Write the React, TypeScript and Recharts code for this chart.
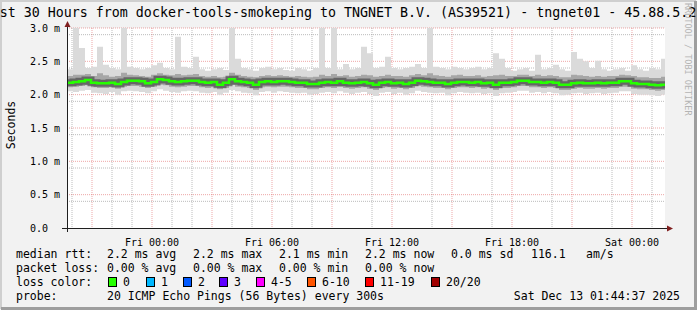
import { ComposedChart, Area, Line, XAxis, YAxis, CartesianGrid } from "recharts";

// 100 samples, 18 min apart, starting Thu 19:45 (hours relative to Fri 00:00)
const startHour = -4.25;
const stepHours = 0.3;
const endHour = 25.65;

const median = [
  2.18, 2.19, 2.2, 2.22, 2.18, 2.17, 2.17, 2.18, 2.16, 2.19,
  2.21, 2.21, 2.2, 2.17, 2.19, 2.23, 2.22, 2.2, 2.19, 2.2,
  2.21, 2.21, 2.19, 2.18, 2.19, 2.15, 2.18, 2.23, 2.2, 2.19,
  2.18, 2.15, 2.19, 2.2, 2.19, 2.2, 2.2, 2.19, 2.18, 2.18,
  2.16, 2.16, 2.18, 2.19, 2.18, 2.2, 2.18, 2.17, 2.18, 2.19,
  2.17, 2.15, 2.18, 2.19, 2.17, 2.18, 2.16, 2.18, 2.21, 2.2,
  2.19, 2.18, 2.18, 2.16, 2.18, 2.19, 2.19, 2.18, 2.19, 2.17,
  2.18, 2.15, 2.18, 2.18, 2.19, 2.21, 2.21, 2.19, 2.19, 2.18,
  2.19, 2.18, 2.15, 2.15, 2.17, 2.18, 2.17, 2.17, 2.18, 2.17,
  2.18, 2.18, 2.2, 2.2, 2.17, 2.16, 2.16, 2.15, 2.14, 2.15,
];

const maxPing = [
  2.38, 3.0, 2.7, 2.4, 2.42, 2.72, 2.45, 2.4, 2.38, 3.0,
  2.42, 2.4, 2.38, 2.4, 2.44, 2.48, 2.4, 2.38, 2.87, 2.42,
  2.4, 2.57, 2.38, 2.36, 2.38, 2.4, 2.37, 3.0, 2.54, 2.4,
  2.38, 2.36, 2.4, 2.42, 2.38, 2.4, 2.37, 2.36, 2.4, 2.38,
  2.36, 2.4, 3.0, 2.4, 3.0, 2.38, 2.46, 2.38, 2.4, 2.72,
  2.62, 2.4, 2.42, 2.57, 2.4, 2.38, 2.4, 2.42, 2.46, 2.4,
  3.0, 2.42, 2.4, 2.38, 2.42, 2.4, 2.38, 2.4, 2.42, 2.38,
  2.4, 2.62, 2.54, 2.4, 2.36, 2.38, 2.4, 2.36, 2.6, 2.38,
  2.4, 2.45, 2.38, 2.36, 2.64, 2.54, 2.5, 2.4, 2.51, 2.38,
  2.36, 2.38, 2.4, 2.36, 2.44, 2.38, 2.36, 2.4, 2.38, 2.54,
];

const highQ = [
  2.28, 2.3, 2.3, 2.31, 2.28, 2.32, 2.29, 2.27, 2.28, 2.33,
  2.3, 2.29, 2.28, 2.27, 2.3, 2.32, 2.3, 2.29, 2.31, 2.29,
  2.3, 2.31, 2.28, 2.27, 2.28, 2.26, 2.27, 2.33, 2.3, 2.28,
  2.27, 2.26, 2.28, 2.29, 2.28, 2.29, 2.28, 2.27, 2.28, 2.27,
  2.26, 2.27, 2.3, 2.28, 2.31, 2.28, 2.29, 2.27, 2.28, 2.3,
  2.29, 2.27, 2.28, 2.3, 2.28, 2.28, 2.27, 2.29, 2.31, 2.29,
  2.32, 2.29, 2.28, 2.27, 2.29, 2.3, 2.28, 2.28, 2.29, 2.27,
  2.28, 2.29, 2.3, 2.28, 2.28, 2.3, 2.3, 2.28, 2.3, 2.28,
  2.29, 2.28, 2.26, 2.26, 2.3, 2.29, 2.28, 2.27, 2.28, 2.27,
  2.28, 2.28, 2.3, 2.29, 2.28, 2.26, 2.26, 2.25, 2.25, 2.27,
];

const lowQ = [
  2.11, 2.12, 2.13, 2.14, 2.11, 2.1, 2.1, 2.11, 2.09, 2.12,
  2.13, 2.13, 2.12, 2.1, 2.12, 2.15, 2.14, 2.12, 2.11, 2.12,
  2.13, 2.13, 2.11, 2.1, 2.11, 2.08, 2.1, 2.15, 2.12, 2.11,
  2.1, 2.07, 2.11, 2.12, 2.11, 2.12, 2.12, 2.11, 2.1, 2.1,
  2.08, 2.08, 2.1, 2.11, 2.1, 2.12, 2.1, 2.09, 2.1, 2.11,
  2.09, 2.07, 2.1, 2.11, 2.09, 2.1, 2.08, 2.1, 2.13, 2.12,
  2.11, 2.1, 2.1, 2.08, 2.1, 2.11, 2.11, 2.1, 2.11, 2.09,
  2.1, 2.07, 2.1, 2.1, 2.11, 2.13, 2.13, 2.11, 2.11, 2.1,
  2.11, 2.1, 2.07, 2.07, 2.09, 2.1, 2.09, 2.09, 2.1, 2.09,
  2.1, 2.1, 2.12, 2.12, 2.09, 2.08, 2.08, 2.07, 2.06, 2.07,
];

const minPing = [
  2.05, 2.04, 2.06, 2.07, 2.03, 2.02, 2.01, 2.04, 2.0, 2.05,
  2.06, 2.05, 2.04, 2.02, 2.05, 2.08, 2.06, 2.04, 2.03, 2.05,
  2.06, 2.05, 2.03, 2.02, 2.04, 2.0, 2.03, 2.07, 2.05, 2.03,
  2.02, 1.99, 2.04, 2.05, 2.03, 2.05, 2.04, 2.03, 2.02, 2.03,
  2.0, 2.01, 2.03, 2.04, 2.02, 2.05, 2.03, 2.01, 2.03, 2.04,
  2.01, 1.98, 2.03, 2.04, 2.01, 2.03, 2.0, 2.02, 2.06, 2.04,
  2.03, 2.02, 2.03, 1.99, 2.02, 2.04, 2.03, 2.02, 2.03, 2.01,
  2.02, 1.98, 2.02, 2.03, 2.04, 2.06, 2.06, 2.03, 2.04, 2.02,
  2.04, 2.02, 1.99, 2.0, 2.02, 2.03, 2.01, 2.02, 2.03, 2.01,
  2.02, 2.03, 2.05, 2.05, 2.01, 2.0, 2.0, 1.99, 1.98, 2.0,
];

const xTicks = [0, 6, 12, 18, 24];
const xTickLabels = ["Fri 00:00", "Fri 06:00", "Fri 12:00", "Fri 18:00", "Sat 00:00"];
const yTicks = [0, 0.5, 1, 1.5, 2, 2.5, 3];
const yTickLabels = ["0.0", "0.5 m", "1.0 m", "1.5 m", "2.0 m", "2.5 m", "3.0 m"];

const lossColors = ["#26ff00", "#00b8ff", "#0059ff", "#5e00ff", "#ff00ff", "#ff5500", "#ff0000", "#a10000"];
const lossLabels = ["0", "1", "2", "3", "4-5", "6-10", "11-19", "20/20"];

const rows = median.map((m, i) => ({
  t: startHour + stepHours * i,
  median: m,
  min: minPing[i],
  lowQ: lowQ[i],
  highQ: highQ[i],
  max: maxPing[i],
}));
rows.push({ ...rows[rows.length - 1], t: endHour });

// grid positions
const minorH: number[] = [];
const majorH: number[] = [];
for (let k = 1; k <= 30; k++) (k % 5 === 0 ? majorH : minorH).push(k / 10);
const minorV: number[] = [];
const majorV: number[] = [];
for (let h = -4; h <= 25; h++) (h % 3 === 0 ? majorV : minorV).push(h);

const mono = "'DejaVu Sans Mono', monospace";

const YTick = (props: any) => {
  const { y, payload } = props;
  const idx = yTicks.indexOf(payload.value);
  return (
    <text x={30} y={y + 3.5} fontSize={10} fontFamily={mono} fill="#000">
      {yTickLabels[idx]}
    </text>
  );
};

const XTick = (props: any) => {
  const { x, y, payload } = props;
  const idx = xTicks.indexOf(payload.value);
  return (
    <text x={x} y={y + 10} fontSize={10} fontFamily={mono} fill="#000" textAnchor="middle">
      {xTickLabels[idx]}
    </text>
  );
};

const legendX = [107, 193, 279, 365, 451];
const rttItems = ["2.2 ms avg", "2.2 ms max", "2.1 ms min", "2.2 ms now", "0.0 ms sd"];
const lossItems = ["0.00 % avg", "0.00 % max", "0.00 % min", "0.00 % now"];
const boxX = [108, 146, 183, 219, 256, 307, 365, 431];

export default function App() {
  const t = { fontSize: 11.5, fontFamily: mono, fill: "#000" };
  return (
    <div style={{ position: "relative", width: 697, height: 310, background: "#f2f2f2", overflow: "hidden" }}>
      <style>{`body{margin:0}`}</style>
      <ComposedChart
        width={697}
        height={310}
        data={rows}
        margin={{ top: 28, right: 32, bottom: 62, left: 7 }}
      >
        <CartesianGrid
          fill="#ffffff"
          stroke="rgba(143,143,143,0.6)"
          strokeDasharray="1 1"
          horizontalValues={minorH}
          verticalValues={minorV}
        />
        <CartesianGrid
          stroke="rgba(222,79,79,0.5)"
          strokeDasharray="1 1"
          horizontalValues={majorH}
          verticalValues={majorV}
        />
        <XAxis
          dataKey="t"
          type="number"
          domain={[startHour, endHour]}
          ticks={xTicks}
          tick={<XTick />}
          axisLine={false}
          tickLine={false}
          height={20}
          allowDataOverflow
        />
        <YAxis
          type="number"
          domain={[0, 3]}
          ticks={yTicks}
          tick={<YTick />}
          axisLine={false}
          tickLine={false}
          width={60}
          allowDataOverflow
        />
        <Area
          type="stepAfter"
          dataKey={(d: any) => [d.min, d.max]}
          stroke="none"
          fill="#dadada"
          fillOpacity={1}
          isAnimationActive={false}
        />
        <Area
          type="stepAfter"
          dataKey={(d: any) => [d.lowQ, d.highQ]}
          stroke="none"
          fill="#a6a6a6"
          fillOpacity={1}
          isAnimationActive={false}
        />
        <Line
          type="stepAfter"
          dataKey="median"
          stroke="#3c3c3c"
          strokeOpacity={0.6}
          strokeWidth={7}
          dot={false}
          isAnimationActive={false}
        />
        <Line
          type="stepAfter"
          dataKey="median"
          stroke="#26ff00"
          strokeWidth={2.5}
          dot={false}
          isAnimationActive={false}
        />
      </ComposedChart>

      <svg
        width={697}
        height={310}
        style={{ position: "absolute", left: 0, top: 0, pointerEvents: "none" }}
      >
        {/* 3d frame */}
        <path d="M1,309 L1,1 L696,1" fill="none" stroke="#cfcfcf" strokeWidth={2} />
        <path d="M1,308.5 L695.5,308.5 L695.5,1" fill="none" stroke="#9e9e9e" strokeWidth={3} />

        {/* title */}
        <text x={340} y={17} fontSize={13.3} fontFamily={mono} textAnchor="middle" fill="#000">
          Last 30 Hours from docker-tools-smokeping to TNGNET B.V. (AS39521) - tngnet01 - 45.88.5.2
        </text>

        {/* watermark */}
        <text
          transform="translate(685,3) rotate(90)"
          fontSize={8.5}
          fontFamily={mono}
          fill="#b4b4b4"
        >
          RRDTOOL / TOBI OETIKER
        </text>

        {/* y label */}
        <text
          transform="translate(15,125) rotate(-90)"
          fontSize={11.5}
          fontFamily={mono}
          textAnchor="middle"
          fill="#000"
        >
          Seconds
        </text>

        {/* axes */}
        <line x1={67.5} y1={26} x2={67.5} y2={232} stroke="#1f1f1f" strokeWidth={1} />
        <line x1={62} y1={228.5} x2={668} y2={228.5} stroke="#1f1f1f" strokeWidth={1} />
        <path d="M64.5,27 L70.5,27 L67.5,21 Z" fill="#801f1f" />
        <path d="M667,225.5 L667,231.5 L673,228.5 Z" fill="#801f1f" />

        {/* legend */}
        <text x={16} y={258} {...t}>median rtt:</text>
        {rttItems.map((s, i) => (
          <text key={s} x={legendX[i]} y={258} {...t} style={{ whiteSpace: "pre" }}>{s}</text>
        ))}
        <text x={531} y={258} {...t}>116.1</text>
        <text x={586} y={258} {...t}>am/s</text>

        <text x={16} y={272} {...t}>packet loss:</text>
        {lossItems.map((s, i) => (
          <text key={s} x={legendX[i]} y={272} {...t} style={{ whiteSpace: "pre" }}>{s}</text>
        ))}

        <text x={16} y={286} {...t}>loss color:</text>
        {lossColors.map((c, i) => (
          <g key={c}>
            <rect x={boxX[i] + 0.5} y={277.5} width={8} height={9} fill={c} stroke="#000" strokeWidth={1} />
            <text x={boxX[i] + 15} y={286} {...t}>{lossLabels[i]}</text>
          </g>
        ))}

        <text x={16} y={300} {...t}>probe:</text>
        <text x={107} y={300} {...t}>20 ICMP Echo Pings (56 Bytes) every 300s</text>
        <text x={680} y={300} {...t} textAnchor="end">Sat Dec 13 01:44:37 2025</text>
      </svg>
    </div>
  );
}
